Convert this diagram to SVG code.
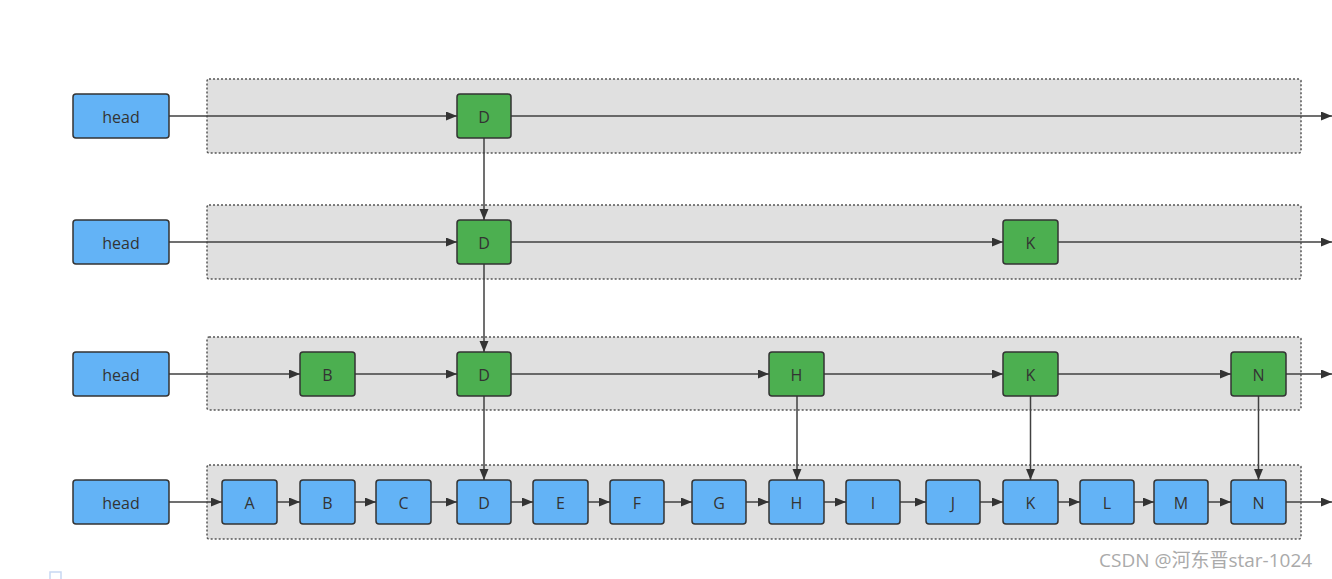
<svg xmlns="http://www.w3.org/2000/svg" width="1332" height="579" viewBox="0 0 1332 579">
<style>
.lane{fill:#e0e0e0;stroke:#555;stroke-width:1.5;stroke-dasharray:2 2}
.head{fill:#63b3f6;stroke:#333;stroke-width:1.5}
.blue{fill:#63b3f6;stroke:#333;stroke-width:1.5}
.green{fill:#4caf50;stroke:#333;stroke-width:1.5}
.t{font-family:"Open Sans","Noto Sans","Liberation Sans",sans-serif;font-size:16px;fill:#333;text-anchor:middle;dominant-baseline:central}
.ht{font-size:16px}
.c{fill:none;stroke:#404040;stroke-width:1.5;marker-end:url(#ah)}
.wm{font-family:"Open Sans","Noto Sans","Noto Sans CJK SC",sans-serif;font-size:19px;fill:#aaaaaa}
</style>
<defs>
<marker id="ah" markerUnits="userSpaceOnUse" markerWidth="12" markerHeight="10" refX="11" refY="4.5" orient="auto">
<path d="M0,0 L11,4.5 L0,9 z" fill="#333"/>
</marker>
</defs>
<g id="lanes">
<rect class="lane" x="207" y="79" width="1094" height="74" rx="2"/>
<rect class="lane" x="207" y="205" width="1094" height="74" rx="2"/>
<rect class="lane" x="207" y="337" width="1094" height="73" rx="2"/>
<rect class="lane" x="207" y="465" width="1094" height="74" rx="2"/>
</g>
<g id="connectors">
<path class="c" d="M169,116 H457"/>
<path class="c" d="M511,116 H1332"/>
<path class="c" d="M169,242 H457"/>
<path class="c" d="M511,242 H1003"/>
<path class="c" d="M1058,242 H1332"/>
<path class="c" d="M169,374 H300"/>
<path class="c" d="M355,374 H457"/>
<path class="c" d="M511,374 H769"/>
<path class="c" d="M824,374 H1003"/>
<path class="c" d="M1058,374 H1231"/>
<path class="c" d="M1286,374 H1332"/>
<path class="c" d="M169,502 H222"/>
<path class="c" d="M277,502 H300"/>
<path class="c" d="M355,502 H376"/>
<path class="c" d="M431,502 H457"/>
<path class="c" d="M511,502 H533"/>
<path class="c" d="M588,502 H610"/>
<path class="c" d="M664,502 H692"/>
<path class="c" d="M746,502 H769"/>
<path class="c" d="M824,502 H846"/>
<path class="c" d="M900,502 H926"/>
<path class="c" d="M980,502 H1003"/>
<path class="c" d="M1058,502 H1080"/>
<path class="c" d="M1134,502 H1154"/>
<path class="c" d="M1208,502 H1231"/>
<path class="c" d="M1286,502 H1332"/>
<path class="c" d="M484,138 V220"/>
<path class="c" d="M484,264 V352"/>
<path class="c" d="M484,396 V480"/>
<path class="c" d="M797,396 V480"/>
<path class="c" d="M1030.5,396 V480"/>
<path class="c" d="M1258.5,396 V480"/>
</g>
<g id="head1"><rect class="head" x="73" y="94" width="96" height="44" rx="3"/><text class="t ht" x="121" y="117">head</text></g>
<g id="head2"><rect class="head" x="73" y="220" width="96" height="44" rx="3"/><text class="t ht" x="121" y="243">head</text></g>
<g id="head3"><rect class="head" x="73" y="352" width="96" height="44" rx="3"/><text class="t ht" x="121" y="375">head</text></g>
<g id="head4"><rect class="head" x="73" y="480" width="96" height="44" rx="3"/><text class="t ht" x="121" y="503">head</text></g>
<g id="L1_D"><rect class="green" x="457" y="94" width="54" height="44" rx="3"/><text class="t" x="484" y="117">D</text></g>
<g id="L2_D"><rect class="green" x="457" y="220" width="54" height="44" rx="3"/><text class="t" x="484" y="243">D</text></g>
<g id="L2_K"><rect class="green" x="1003" y="220" width="55" height="44" rx="3"/><text class="t" x="1030.5" y="243">K</text></g>
<g id="L3_B"><rect class="green" x="300" y="352" width="55" height="44" rx="3"/><text class="t" x="327.5" y="375">B</text></g>
<g id="L3_D"><rect class="green" x="457" y="352" width="54" height="44" rx="3"/><text class="t" x="484" y="375">D</text></g>
<g id="L3_H"><rect class="green" x="769" y="352" width="55" height="44" rx="3"/><text class="t" x="796.5" y="375">H</text></g>
<g id="L3_K"><rect class="green" x="1003" y="352" width="55" height="44" rx="3"/><text class="t" x="1030.5" y="375">K</text></g>
<g id="L3_N"><rect class="green" x="1231" y="352" width="55" height="44" rx="3"/><text class="t" x="1258.5" y="375">N</text></g>
<g id="L4_A"><rect class="blue" x="222" y="480" width="55" height="44" rx="3"/><text class="t" x="249.5" y="503">A</text></g>
<g id="L4_B"><rect class="blue" x="300" y="480" width="55" height="44" rx="3"/><text class="t" x="327.5" y="503">B</text></g>
<g id="L4_C"><rect class="blue" x="376" y="480" width="55" height="44" rx="3"/><text class="t" x="403.5" y="503">C</text></g>
<g id="L4_D"><rect class="blue" x="457" y="480" width="54" height="44" rx="3"/><text class="t" x="484" y="503">D</text></g>
<g id="L4_E"><rect class="blue" x="533" y="480" width="55" height="44" rx="3"/><text class="t" x="560.5" y="503">E</text></g>
<g id="L4_F"><rect class="blue" x="610" y="480" width="54" height="44" rx="3"/><text class="t" x="637" y="503">F</text></g>
<g id="L4_G"><rect class="blue" x="692" y="480" width="54" height="44" rx="3"/><text class="t" x="719" y="503">G</text></g>
<g id="L4_H"><rect class="blue" x="769" y="480" width="55" height="44" rx="3"/><text class="t" x="796.5" y="503">H</text></g>
<g id="L4_I"><rect class="blue" x="846" y="480" width="54" height="44" rx="3"/><text class="t" x="873" y="503">I</text></g>
<g id="L4_J"><rect class="blue" x="926" y="480" width="54" height="44" rx="3"/><text class="t" x="953" y="503">J</text></g>
<g id="L4_K"><rect class="blue" x="1003" y="480" width="55" height="44" rx="3"/><text class="t" x="1030.5" y="503">K</text></g>
<g id="L4_L"><rect class="blue" x="1080" y="480" width="54" height="44" rx="3"/><text class="t" x="1107" y="503">L</text></g>
<g id="L4_M"><rect class="blue" x="1154" y="480" width="54" height="44" rx="3"/><text class="t" x="1181" y="503">M</text></g>
<g id="L4_N"><rect class="blue" x="1231" y="480" width="55" height="44" rx="3"/><text class="t" x="1258.5" y="503">N</text></g>
<path d="M50,579 V572 H61 V579" fill="none" stroke="#c8d8f2" stroke-width="1.5"/>
<text class="wm" x="1099" y="567">CSDN @河东晋star-1024</text>
</svg>
